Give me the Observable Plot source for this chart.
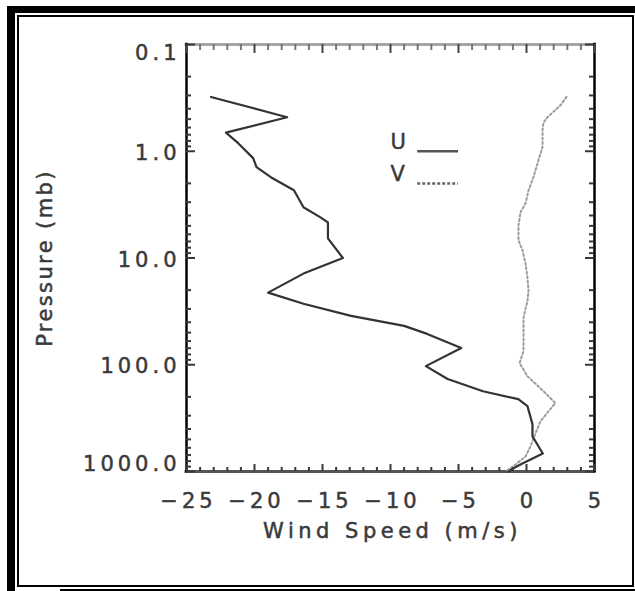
<!DOCTYPE html>
<html><head><meta charset="utf-8">
<script src="https://cdn.jsdelivr.net/npm/d3@7"></script>
<script src="https://cdn.jsdelivr.net/npm/@observablehq/plot@0.6"></script>
<style>
html,body{margin:0;padding:0;background:#fff;}
#wrap{position:relative;width:635px;height:591px;overflow:hidden;background:#fff;}
#chart{position:absolute;left:0;top:0;}
#chart text{stroke:currentColor;stroke-width:0.5px;}
.b{position:absolute;background:#000;}
</style></head><body>
<div id="wrap">
  <div id="chart"></div>
  <div class="b" style="left:7px;top:6px;width:8px;height:585px"></div>
  <div class="b" style="left:7px;top:6px;width:628px;height:7px"></div>
  <div style="position:absolute;left:17px;top:15px;width:613px;height:568px;border:2px solid #000"></div>
  <div class="b" style="left:60px;top:589px;width:575px;height:2px"></div>
</div>
<script>
// ---- data ----
const windTicks = [-25, -20, -15, -10, -5, 0, 5];
const windTickLabels = ["−25", "−20", "−15", "−10", "−5", "0", "5"];
const windMinorTicks = [-24, -23, -22, -21, -19, -18, -17, -16, -14, -13, -12, -11, -9, -8, -7, -6, -4, -3, -2, -1, 1, 2, 3, 4];
const pressureTicks = [0.1, 1, 10, 100, 1000];
const pressureTickLabels = ["0.1", "1.0", "10.0", "100.0", "1000.0"];
const pressureMinorTicks = [0.2, 0.3, 0.4, 0.5, 0.6, 0.7, 0.8, 0.9, 2, 3, 4, 5, 6, 7, 8, 9, 20, 30, 40, 50, 60, 70, 80, 90, 200, 300, 400, 500, 600, 700, 800, 900];

// U component (solid)
const uPressure = [0.31, 0.48, 0.67, 0.84, 1.16, 1.41, 1.75, 2.32, 3.35, 4.16, 4.64, 6.55, 10, 14.0, 21.1, 26.8, 34.8, 43.2, 51.4, 69.6, 103, 136, 177, 210, 244, 361, 469, 678, 842, 937, 1000];
const uWind     = [-23.2, -17.6, -22.1, -21.2, -20.1, -19.85, -18.8, -17.1, -16.4, -15.15, -14.6, -14.6, -13.5, -16.4, -19.0, -16.4, -12.9, -9.0, -7.3, -4.8, -7.4, -5.8, -3.2, -0.6, 0.07, 0.44, 0.44, 1.2, -0.3, -1.0, -1.3];

// V component (dotted)
const vPressure = [0.31, 0.37, 0.41, 0.48, 0.54, 0.63, 0.91, 1.21, 1.75, 2.32, 3.07, 3.73, 4.95, 6.84, 8.5, 11.3, 15.3, 20.2, 25.1, 36.3, 51.4, 74.3, 96.4, 128, 177, 229, 272, 338, 439, 582, 723, 860, 1000];
const vWind     = [2.94, 2.5, 2.13, 1.54, 1.25, 1.18, 1.18, 0.88, 0.51, 0.15, -0.07, -0.44, -0.59, -0.59, -0.29, -0.07, 0.07, 0.15, 0.07, -0.22, -0.22, -0.22, -0.51, 0.07, 1.25, 2.13, 1.62, 1.03, 0.66, 0.29, -0.07, -0.81, -1.54];

const legendNames = ["U", "V"];
const legendPressure = [1, 2];
const legendLabelX = -10;
const legendLineX = [-8, -5];

const xTitle = "Wind Speed (m/s)";
const yTitle = "Pressure (mb)";

// ---- build ----
const uData = uPressure.map((p, i) => ({p, w: uWind[i]}));
const vData = vPressure.map((p, i) => ({p, w: vWind[i]}));
const pTop = pressureTicks[0], pBottom = pressureTicks[pressureTicks.length - 1];
const wLeft = windTicks[0], wRight = windTicks[windTicks.length - 1];
const labelOf = (d) => pressureTickLabels[pressureTicks.indexOf(d)];
const wLabelOf = (d) => windTickLabels[windTicks.indexOf(d)];

const tickColor = "#383838";

// inward ticks drawn as zero-length rules extended by negative insets
const xTicks = (vals, p, len, top, color) => Plot.ruleX(vals, {
  x: d => d, y1: p, y2: p,
  insetTop: top ? len : 0, insetBottom: top ? 0 : len,
  stroke: color, strokeWidth: 2
});
const yTicks = (vals, w, len, left) => Plot.ruleY(vals, {
  y: d => d, x1: w, x2: w,
  insetLeft: left ? 0 : -len, insetRight: left ? -len : 0,
  stroke: tickColor, strokeWidth: 2
});

const plot = Plot.plot({
  width: 635,
  height: 591,
  marginLeft: 186,
  marginRight: 41,
  marginTop: 44,
  marginBottom: 120,
  style: {background: "transparent", fontFamily: "'DejaVu Sans', sans-serif", fontSize: "21px", color: "#3a3a3a", letterSpacing: "4px"},
  x: {domain: [wLeft, wRight]},
  y: {type: "log", domain: [pTop, pBottom], reverse: true},
  marks: [
    // frame
    Plot.ruleY([pTop], {stroke: "#a5a5a5", strokeWidth: 3, strokeLinecap: "square"}),
    Plot.ruleY([pBottom], {stroke: "#555", strokeWidth: 3, strokeLinecap: "square"}),
    Plot.ruleX([wLeft, wRight], {stroke: "#000", strokeWidth: 2.5, strokeLinecap: "square"}),
    // ticks
    xTicks(windMinorTicks, pBottom, 4, false, tickColor),
    xTicks(windTicks, pBottom, 7, false, tickColor),
    xTicks(windMinorTicks, pTop, 6, true, "#777"),
    xTicks(windTicks, pTop, 9, true, "#444"),
    yTicks(pressureMinorTicks, wLeft, 5, true),
    yTicks(pressureTicks, wLeft, 9, true),
    yTicks(pressureMinorTicks, wRight, 5, false),
    yTicks(pressureTicks, wRight, 9, false),
    // tick labels
    Plot.axisX(windTicks, {anchor: "bottom", tickSize: 0, tickPadding: 22, tickFormat: wLabelOf, label: null, dx: 2}),
    Plot.axisY(pressureTicks.slice(1, 4), {anchor: "left", tickSize: 0, tickPadding: 6, tickFormat: labelOf, label: null, dy: 2}),
    Plot.axisY([pTop], {anchor: "left", tickSize: 0, tickPadding: 6, tickFormat: labelOf, label: null, dy: 9}),
    Plot.axisY([pBottom], {anchor: "left", tickSize: 0, tickPadding: 6, tickFormat: labelOf, label: null, dy: -7}),
    // titles
    Plot.text([xTitle], {frameAnchor: "bottom", dy: 52, dx: 2, lineAnchor: "top", textAnchor: "middle", text: d => d}),
    Plot.text([yTitle], {frameAnchor: "left", dx: -149, dy: 0, rotate: -90, lineAnchor: "top", textAnchor: "middle", text: d => d}),
    // data
    Plot.line(vData, {x: "w", y: "p", stroke: "#9c9c9c", strokeWidth: 2, strokeDasharray: "2,2.5"}),
    Plot.line(uData, {x: "w", y: "p", stroke: "#333", strokeWidth: 2.2}),
    // legend
    Plot.text(legendNames, {x: () => legendLabelX, y: (d, i) => legendPressure[i], text: d => d, textAnchor: "start", lineAnchor: "middle", dy: -9}),
    Plot.ruleY([legendPressure[0]], {x1: legendLineX[0], x2: legendLineX[1], stroke: "#555", strokeWidth: 2.5}),
    Plot.ruleY([legendPressure[1]], {x1: legendLineX[0], x2: legendLineX[1], stroke: "#666", strokeWidth: 2.5, strokeDasharray: "3,2"})
  ]
});

document.getElementById("chart").appendChild(plot);
d3.select(plot).selectAll("text").each(function() {
  const t = this.textContent;
  if (t === xTitle) this.style.letterSpacing = "4.5px";
  if (t === yTitle) this.style.letterSpacing = "2.4px";
  if (legendNames.includes(t)) this.style.letterSpacing = "0px";
});
</script>
</body></html>
